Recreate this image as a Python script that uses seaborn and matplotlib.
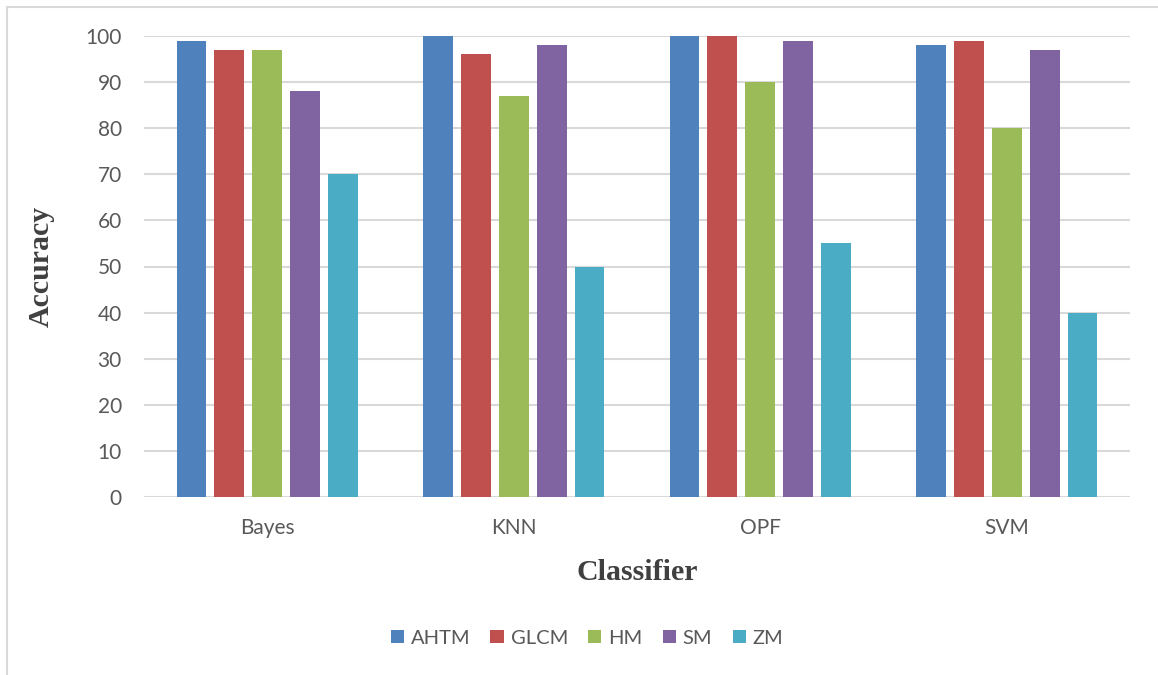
import matplotlib
matplotlib.use("Agg")
import matplotlib.pyplot as plt
from matplotlib.patches import Rectangle
import pandas as pd
import seaborn as sns

classifiers = ["Bayes", "KNN", "OPF", "SVM"]
methods = ["AHTM", "GLCM", "HM", "SM", "ZM"]
ahtm = [99, 100, 100, 98]
glcm = [97, 96, 100, 99]
hm = [97, 87, 90, 80]
sm = [88, 98, 99, 97]
zm = [70, 50, 55, 40]
y_ticks = [0, 10, 20, 30, 40, 50, 60, 70, 80, 90, 100]
palette = ["#4F81BD", "#C0504D", "#9BBB59", "#8064A2", "#4BACC6"]

series = dict(zip(methods, [ahtm, glcm, hm, sm, zm]))
df = pd.DataFrame(
    [(c, m, series[m][i]) for i, c in enumerate(classifiers) for m in methods],
    columns=["Classifier", "Method", "Accuracy"],
)

sns.set_theme(style="white")
plt.rcParams["font.family"] = ["Lato", "DejaVu Sans"]

fig = plt.figure(figsize=(11.58, 6.75), dpi=100)
ax = fig.add_axes([144 / 1158, 1 - 497 / 675, (1130 - 144) / 1158, (497 - 36) / 675])

sns.barplot(
    data=df, x="Classifier", y="Accuracy", hue="Method",
    order=classifiers, hue_order=methods, palette=palette,
    width=0.77, gap=0.22, linewidth=0, saturation=1, ax=ax,
)

ax.set_ylim(0, 100)
ax.set_xlim(-0.5, len(classifiers) - 0.5)
ax.set_yticks(y_ticks)
ax.yaxis.grid(True, color="#d9d9d9", linewidth=1.5)
ax.set_axisbelow(True)
for s in ax.spines.values():
    s.set_visible(False)
ax.tick_params(axis="y", length=0, labelsize=15, colors="#595959", pad=16)
ax.tick_params(axis="x", length=0, labelsize=15, colors="#595959", pad=15)

ax.set_ylabel("Accuracy", family="Liberation Serif", fontweight="bold",
              fontsize=21.5, color="#404040", labelpad=22)
ax.set_xlabel("Classifier", family="Liberation Serif", fontweight="bold",
              fontsize=21.5, color="#404040", labelpad=15)

handles, labels = ax.get_legend_handles_labels()
ax.legend_.remove()
fig.legend(handles, labels, loc="center", bbox_to_anchor=(587 / 1158, 1 - 638 / 675),
           ncol=5, frameon=False, fontsize=14.5, labelcolor="#595959",
           handlelength=0.65, handleheight=0.65, handletextpad=0.35,
           columnspacing=1.0)

# chart frame
fig.add_artist(Rectangle((7 / 1158, -0.1), 1.2, 1 - 7 / 675 + 0.1,
                         transform=fig.transFigure, fill=False,
                         edgecolor="#d9d9d9", linewidth=1.5))

fig.savefig("out.png", dpi=100, facecolor="white")
